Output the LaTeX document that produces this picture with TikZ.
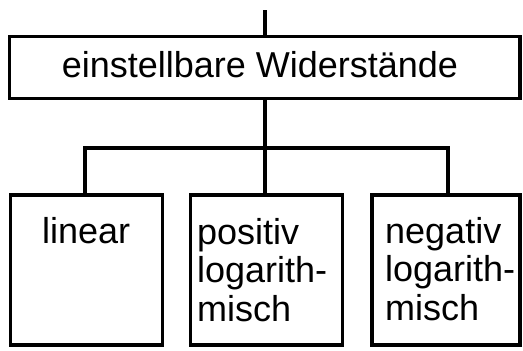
\documentclass[tikz,border=0pt]{standalone}
\usepackage{fontspec}
\setmainfont{Liberation Sans}
\begin{document}
\begin{tikzpicture}[x=1pt,y=-1pt,
  box/.style={draw, line width=3.6pt, inner sep=0pt},
  conn/.style={line width=3.2pt},
  lbl/.style={font=\fontsize{36}{38.5}\selectfont, inner sep=0pt, anchor=base west, align=left}]
\useasboundingbox (0,0) rectangle (523,351);
\coordinate (in) at (265,10);
\node[box, minimum width=510.5pt, minimum height=62pt] (main) at (264.75,67.5) {};
\node[lbl, anchor=base] (maintxt) at (260,77) {einstellbare Widerstände};
\node[box, minimum width=152pt, minimum height=150pt] (b1) at (86.5,270) {};
\node[box, minimum width=152pt, minimum height=150pt] (b2) at (266.5,270) {};
\node[box, minimum width=148.5pt, minimum height=150pt] (b3) at (446,270) {};
\node[lbl] (t1) at (42,243) {linear};
\node[lbl] (t2) at (197,321) {positiv\\logarith-\\misch};
\node[lbl] (t3) at (385,320) {negativ\\logarith-\\misch};
\coordinate (j) at (265,148);
\coordinate (jl) at (85,148);
\coordinate (jr) at (448,148);
\draw[conn] (in) -- (in |- main.north);
\draw[conn] (main.south -| j) -- (j);
\draw[conn, line cap=rect] (jl) -- (jr);
\draw[conn] (jl) -- (jl |- b1.north);
\draw[conn] (j) -- (j |- b2.north);
\draw[conn] (jr) -- (jr |- b3.north);
\end{tikzpicture}
\end{document}
